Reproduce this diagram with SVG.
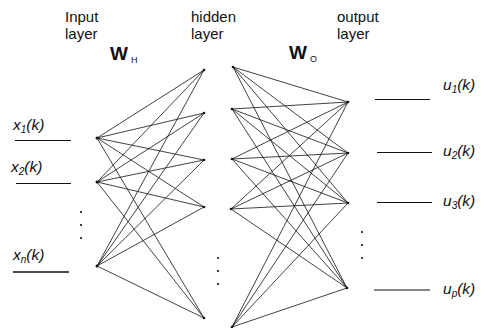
<svg xmlns="http://www.w3.org/2000/svg" width="485" height="330" viewBox="0 0 485 330">
<style>
.t{font-family:"Liberation Sans",Arial,sans-serif;fill:#111}
.h{font-size:15px}
.w{font-size:19px;font-weight:bold}
.s{font-size:9px}
.v{font-size:15.5px;font-style:italic}
.sub{font-size:10px;font-style:italic}
.c line{stroke:#111;stroke-width:0.8}
.io line{stroke:#111;stroke-width:1}
.n{fill:#111}
.d{fill:#111}
</style>
<rect width="485" height="330" fill="#fff"/>
<g id="headers">
<text class="t h" x="65" y="22">Input</text>
<text class="t h" x="65" y="39">layer</text>
<text class="t h" x="191" y="22">hidden</text>
<text class="t h" x="191" y="39">layer</text>
<text class="t h" x="337" y="22">output</text>
<text class="t h" x="337" y="39">layer</text>
<text class="t w" x="110" y="60">W</text><text class="t s" x="131" y="63">H</text>
<text class="t w" x="289" y="59">W</text><text class="t s" x="310" y="62">O</text>
</g>
<g class="c" id="connectors">
<line x1="97" y1="138" x2="204" y2="70"/><line x1="97" y1="138" x2="204" y2="113"/><line x1="97" y1="138" x2="204" y2="160"/><line x1="97" y1="138" x2="204" y2="207"/><line x1="97" y1="138" x2="204" y2="318"/>
<line x1="97" y1="182" x2="204" y2="70"/><line x1="97" y1="182" x2="204" y2="113"/><line x1="97" y1="182" x2="204" y2="160"/><line x1="97" y1="182" x2="204" y2="207"/><line x1="97" y1="182" x2="204" y2="318"/>
<line x1="97" y1="266" x2="204" y2="70"/><line x1="97" y1="266" x2="204" y2="113"/><line x1="97" y1="266" x2="204" y2="160"/><line x1="97" y1="266" x2="204" y2="207"/><line x1="97" y1="266" x2="204" y2="318"/>
<line x1="233" y1="67" x2="348" y2="102"/><line x1="233" y1="67" x2="348" y2="153"/><line x1="233" y1="67" x2="348" y2="203"/><line x1="233" y1="67" x2="347" y2="288"/>
<line x1="232" y1="109" x2="348" y2="102"/><line x1="232" y1="109" x2="348" y2="153"/><line x1="232" y1="109" x2="348" y2="203"/><line x1="232" y1="109" x2="347" y2="288"/>
<line x1="232" y1="159" x2="348" y2="102"/><line x1="232" y1="159" x2="348" y2="153"/><line x1="232" y1="159" x2="348" y2="203"/><line x1="232" y1="159" x2="347" y2="288"/>
<line x1="231" y1="209" x2="348" y2="102"/><line x1="231" y1="209" x2="348" y2="153"/><line x1="231" y1="209" x2="348" y2="203"/><line x1="231" y1="209" x2="347" y2="288"/>
<line x1="232" y1="327" x2="348" y2="102"/><line x1="232" y1="327" x2="348" y2="153"/><line x1="232" y1="327" x2="348" y2="203"/><line x1="232" y1="327" x2="347" y2="288"/>
</g>
<g class="io" id="io-lines">
<line x1="15" y1="140.5" x2="71" y2="140.5"/>
<line x1="16" y1="183.5" x2="71" y2="183.5"/>
<line x1="13" y1="272" x2="69" y2="272" style="stroke-width:1.6"/>
<line x1="375" y1="99.5" x2="430" y2="99.5"/>
<line x1="377" y1="152.5" x2="432" y2="152.5"/>
<line x1="377" y1="202.5" x2="432" y2="202.5"/>
<line x1="374" y1="290" x2="430" y2="290"/>
</g>
<g id="input-labels">
<text class="t v" x="13" y="130">x<tspan class="sub" dy="3">1</tspan><tspan dy="-3">(k)</tspan></text>
<text class="t v" x="11" y="172">x<tspan class="sub" dy="3">2</tspan><tspan dy="-3">(k)</tspan></text>
<text class="t v" x="13" y="260">x<tspan class="sub" dy="3">n</tspan><tspan dy="-3">(k)</tspan></text>
</g>
<g id="output-labels">
<text class="t v" x="443" y="90">u<tspan class="sub" dy="3">1</tspan><tspan dy="-3">(k)</tspan></text>
<text class="t v" x="443" y="156">u<tspan class="sub" dy="3">2</tspan><tspan dy="-3">(k)</tspan></text>
<text class="t v" x="443" y="206">u<tspan class="sub" dy="3">3</tspan><tspan dy="-3">(k)</tspan></text>
<text class="t v" x="443" y="294">u<tspan class="sub" dy="3">p</tspan><tspan dy="-3">(k)</tspan></text>
</g>
<g id="in1"><circle class="n" cx="97" cy="138" r="1.5"/></g>
<g id="in2"><circle class="n" cx="97" cy="182" r="1.5"/></g>
<g id="inn"><circle class="n" cx="97" cy="266" r="1.5"/></g>
<g id="hl1"><circle class="n" cx="204" cy="70" r="1.3"/></g>
<g id="hl2"><circle class="n" cx="204" cy="113" r="1.3"/></g>
<g id="hl3"><circle class="n" cx="204" cy="160" r="1.3"/></g>
<g id="hl4"><circle class="n" cx="204" cy="207" r="1.3"/></g>
<g id="hl5"><circle class="n" cx="204" cy="318" r="1.3"/></g>
<g id="hr1"><circle class="n" cx="233" cy="67" r="1.3"/></g>
<g id="hr2"><circle class="n" cx="232" cy="109" r="1.3"/></g>
<g id="hr3"><circle class="n" cx="232" cy="159" r="1.3"/></g>
<g id="hr4"><circle class="n" cx="231" cy="209" r="1.3"/></g>
<g id="hr5"><circle class="n" cx="232" cy="327" r="1.3"/></g>
<g id="out1"><circle class="n" cx="348" cy="102" r="1.3"/></g>
<g id="out2"><circle class="n" cx="348" cy="153" r="1.3"/></g>
<g id="out3"><circle class="n" cx="348" cy="203" r="1.3"/></g>
<g id="outp"><circle class="n" cx="347" cy="288" r="1.3"/></g>
<g id="ellipses">
<circle class="d" cx="81" cy="212" r="1.1"/><circle class="d" cx="81" cy="225" r="1.1"/><circle class="d" cx="81" cy="238" r="1.1"/>
<circle class="d" cx="218" cy="258" r="1.1"/><circle class="d" cx="218" cy="271" r="1.1"/><circle class="d" cx="218" cy="284" r="1.1"/>
<circle class="d" cx="362" cy="232" r="1.1"/><circle class="d" cx="362" cy="245" r="1.1"/><circle class="d" cx="362" cy="258" r="1.1"/>
</g>
</svg>
